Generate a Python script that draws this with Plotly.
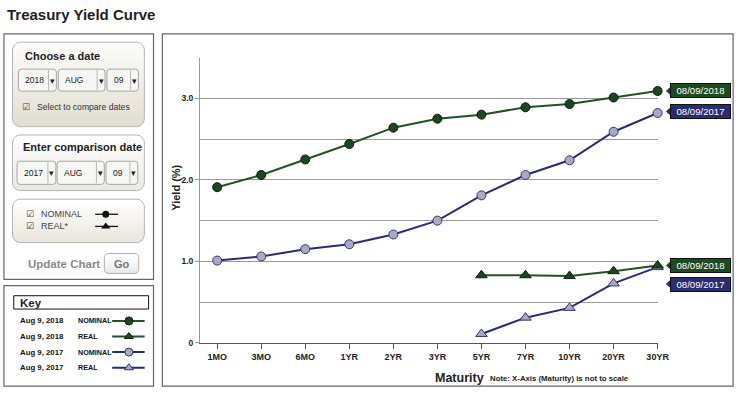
import plotly.graph_objects as go
import numpy as np

# ---------------- data ----------------
maturities = ["1MO", "3MO", "6MO", "1YR", "2YR", "3YR", "5YR", "7YR", "10YR", "20YR", "30YR"]
nominal_2018 = [1.91, 2.06, 2.25, 2.44, 2.64, 2.75, 2.80, 2.89, 2.93, 3.01, 3.09]
nominal_2017 = [1.01, 1.06, 1.15, 1.21, 1.33, 1.50, 1.81, 2.06, 2.24, 2.59, 2.82]
real_maturities = ["5YR", "7YR", "10YR", "20YR", "30YR"]
real_2018 = [0.83, 0.83, 0.82, 0.88, 0.95]
real_2017 = [0.11, 0.31, 0.43, 0.73, 0.93]
yield_ticks = [0, 1, 2, 3]
yield_tick_labels = ["0", "1.0", "2.0", "3.0"]
yield_minor = [0.5, 1.5, 2.5, 3.5]
key_rows = [("Aug 9, 2018", "NOMINAL"), ("Aug 9, 2018", "REAL"),
            ("Aug 9, 2017", "NOMINAL"), ("Aug 9, 2017", "REAL")]
tag_date_a = "08/09/2018"
tag_date_b = "08/09/2017"

# ---------------- style ----------------
W, H = 751, 397
FONT = "Liberation Sans, Arial, sans-serif"
GREEN_LINE = "#24502a"
GREEN_MARK = "#1c461f"
GREEN_EDGE = "#0c200e"
NAVY_LINE = "#2a2a7a"
NAVY_MARK = "#a9a9bf"
NAVY_EDGE = "#34347c"
TAG_GREEN = "#1e4a1f"
TAG_NAVY = "#2b2b6f"

PX_L, PX_R = 203.3, 668.3   # plot area pixels
PX_T, PX_B = 58.3, 347.3
X_RANGE = [-0.389, 10]
Y_RANGE = [0, 3.5]


def ypx(v):
    return PX_B - (v - Y_RANGE[0]) / (Y_RANGE[1] - Y_RANGE[0]) * (PX_B - PX_T)


def xpx(i):
    return PX_L + (i - X_RANGE[0]) / (X_RANGE[1] - X_RANGE[0]) * (PX_R - PX_L)


fig = go.Figure()

# ---------------- main data traces ----------------
idx = {m: i for i, m in enumerate(maturities)}
xi_all = [idx[m] for m in maturities]
xi_real = [idx[m] for m in real_maturities]


def series(x, y, lc, mc, ec, sym, size):
    fig.add_trace(go.Scatter(
        x=x, y=y, mode="lines+markers", xaxis="x", yaxis="y",
        line=dict(color=lc, width=2),
        marker=dict(symbol=sym, size=size, color=mc, line=dict(color=ec, width=1)),
        cliponaxis=False, showlegend=False, hoverinfo="skip"))


series(xi_real, real_2017, NAVY_LINE, NAVY_MARK, NAVY_EDGE, "triangle-up", 10)
series(xi_real, real_2018, GREEN_LINE, GREEN_MARK, GREEN_EDGE, "triangle-up", 10)
series(xi_all, nominal_2017, NAVY_LINE, NAVY_MARK, NAVY_EDGE, "circle", 9)
series(xi_all, nominal_2018, GREEN_LINE, GREEN_MARK, GREEN_EDGE, "circle", 9)

shapes = []
annotations = []


def text(x, y, t, size, color="#222", bold=False, anchor="left", family=FONT, angle=0):
    annotations.append(dict(
        x=x, y=y, xref="x2", yref="y2", text=("<b>%s</b>" % t) if bold else t,
        showarrow=False, xanchor=anchor, yanchor="middle", textangle=angle,
        font=dict(size=size, color=color, family=family)))


def rrect_path(x0, y0, x1, y1, r):
    return (f"M{x0 + r},{y0} L{x1 - r},{y0} Q{x1},{y0} {x1},{y0 + r} "
            f"L{x1},{y1 - r} Q{x1},{y1} {x1 - r},{y1} L{x0 + r},{y1} "
            f"Q{x0},{y1} {x0},{y1 - r} L{x0},{y0 + r} Q{x0},{y0} {x0 + r},{y0} Z")


def rrect_pts(x0, y0, x1, y1, r, n=8):
    xs, ys = [], []
    corners = [(x1 - r, y0 + r, -90, 0), (x1 - r, y1 - r, 0, 90),
               (x0 + r, y1 - r, 90, 180), (x0 + r, y0 + r, 180, 270)]
    for cx, cy, a0, a1 in corners:
        for a in np.linspace(np.radians(a0), np.radians(a1), n):
            xs.append(cx + r * np.cos(a))
            ys.append(cy + r * np.sin(a))
    xs.append(xs[0]); ys.append(ys[0])
    return xs, ys


def gradient_box(x0, y0, x1, y1, r, top, bottom, edge="#b4b4b4"):
    xs, ys = rrect_pts(x0, y0, x1, y1, r)
    fig.add_trace(go.Scatter(
        x=xs, y=ys, xaxis="x2", yaxis="y2", mode="lines", fill="toself",
        line=dict(color=edge, width=1),
        fillgradient=dict(type="vertical", colorscale=[[0, top], [1, bottom]],
                          start=y0, stop=y1),
        showlegend=False, hoverinfo="skip"))


def rect(x0, y0, x1, y1, color="#666", width=1.2, fill=None):
    shapes.append(dict(type="rect", xref="x2", yref="y2", x0=x0, y0=y0, x1=x1, y1=y1,
                       line=dict(color=color, width=width),
                       fillcolor=fill if fill else "rgba(0,0,0,0)", layer="above"))


def line(x0, y0, x1, y1, color, width=1):
    shapes.append(dict(type="line", xref="x2", yref="y2", x0=x0, y0=y0, x1=x1, y1=y1,
                       line=dict(color=color, width=width), layer="above"))


def dropdown(x0, y0, x1, y1, label):
    shapes.append(dict(type="path", xref="x2", yref="y2", path=rrect_path(x0, y0, x1, y1, 3),
                       line=dict(color="#a6a6a6", width=1), fillcolor="#f6f6f4", layer="above"))
    line(x1 - 8, y0 + 1, x1 - 8, y1 - 1, "#b8b8b8", 1)
    text(x0 + 5, (y0 + y1) / 2, label, 8.5, "#222")
    text(x1 - 4, (y0 + y1) / 2 + 0.5, "▾", 9, "#222", anchor="center",
         family="DejaVu Sans, sans-serif")


# ---------------- title ----------------
text(5, 15, "Treasury Yield Curve", 15, "#222", bold=True)

# ---------------- left control panel ----------------
rect(4, 34.3, 156, 283)
gradient_box(12.7, 42.7, 146.7, 128.3, 8, "#fdfdfb", "#e1dccf")
text(23, 57, "Choose a date", 11, "#222", bold=True)
dropdown(18.7, 70, 57.3, 92.3, "2018")
dropdown(59.3, 70, 106.7, 92.3, "AUG")
dropdown(108.7, 70, 140.7, 92.3, "09")
text(20, 108.7, "☑", 9, "#444", family="DejaVu Sans, sans-serif")
text(35.3, 108.7, "Select to compare dates", 8.6, "#333")

gradient_box(12.7, 136.7, 146.7, 193, 8, "#ffffff", "#e9e7e1")
text(21, 149.3, "Enter comparison date", 11, "#222", bold=True)
dropdown(17.3, 163.3, 56.7, 186.7, "2017")
dropdown(58, 163.3, 106, 186.7, "AUG")
dropdown(107.7, 163.3, 140, 186.7, "09")

gradient_box(12.7, 201.7, 146.7, 245.7, 8, "#ffffff", "#e6e2d8")
text(24, 217, "☑", 9, "#444", family="DejaVu Sans, sans-serif")
text(39.3, 217, "NOMINAL", 9, "#444")
text(24, 229.3, "☑", 9, "#444", family="DejaVu Sans, sans-serif")
text(39.3, 229.3, "REAL*", 9, "#444")
for yy, sym in [(217, "circle"), (229.3, "triangle-up")]:
    fig.add_trace(go.Scatter(x=[96.7, 120], y=[yy, yy], xaxis="x2", yaxis="y2", mode="lines",
                             line=dict(color="#111", width=1.3), showlegend=False, hoverinfo="skip"))
    fig.add_trace(go.Scatter(x=[107.5], y=[yy], xaxis="x2", yaxis="y2", mode="markers",
                             marker=dict(symbol=sym, size=7 if sym == "circle" else 8, color="#111"),
                             showlegend=False, hoverinfo="skip"))

text(26, 267, "Update Chart", 11.5, "#8a8a8a", bold=True)
gradient_box(106, 256.7, 141, 277, 4, "#ffffff", "#e2e2e2", edge="#b0b0b0")
text(123.5, 267, "Go", 11, "#777", bold=True, anchor="center")

# ---------------- key panel ----------------
rect(4, 289.3, 156, 391)
rect(14, 299.5, 151, 313, color="#111", width=1)
text(18, 306.5, "Key", 11.5, "#222", bold=True)
key_styles = [(GREEN_LINE, GREEN_MARK, GREEN_EDGE, "circle"),
              (GREEN_LINE, GREEN_MARK, GREEN_EDGE, "triangle-up"),
              (NAVY_LINE, NAVY_MARK, NAVY_EDGE, "circle"),
              (NAVY_LINE, NAVY_MARK, NAVY_EDGE, "triangle-up")]
for k, ((d, t), (lc, mc, ec, sym)) in enumerate(zip(key_rows, key_styles)):
    yy = 325 + k * 15.8
    text(18, yy, d, 7.8, "#111", bold=True)
    text(77, yy, t, 7.2, "#111", bold=True)
    fig.add_trace(go.Scatter(x=[114, 147], y=[yy, yy], xaxis="x2", yaxis="y2", mode="lines",
                             line=dict(color=lc, width=2), showlegend=False, hoverinfo="skip"))
    fig.add_trace(go.Scatter(x=[131], y=[yy], xaxis="x2", yaxis="y2", mode="markers",
                             marker=dict(symbol=sym, size=8, color=mc, line=dict(color=ec, width=1)),
                             showlegend=False, hoverinfo="skip"))

# ---------------- chart panel ----------------
rect(165, 34.3, 745, 391)
text(178, 190, "Yield (%)", 11, "#222", bold=True, anchor="center", angle=-90)
text(467, 382.5, "Maturity", 12.5, "#222", bold=True, anchor="center")
text(496, 383.5, "Note: X-Axis (Maturity) is not to scale", 7.8, "#222", bold=True)

# end-of-curve tags
last = len(maturities) - 1
tags = [(nominal_2018[-1], tag_date_a, TAG_GREEN, 0),
        (nominal_2017[-1], tag_date_b, TAG_NAVY, 1.5),
        (real_2018[-1], tag_date_a, TAG_GREEN, 0),
        (real_2017[-1], tag_date_b, TAG_NAVY, -17)]
for val, lbl, col, shift in tags:
    annotations.append(dict(
        x=last, y=val, xref="x", yref="y", text=lbl, showarrow=False,
        xanchor="left", yanchor="middle", xshift=12.4, yshift=shift,
        width=57, height=11, borderpad=1, borderwidth=1, bordercolor="#111",
        bgcolor=col, font=dict(size=9.6, color="#ffffff", family=FONT)))
    cy = ypx(val) - shift
    tip = xpx(last) + 8.4
    shapes.append(dict(type="path", xref="x2", yref="y2",
                       path=f"M{tip},{cy} L{tip + 4.5},{cy - 4} L{tip + 4.5},{cy + 4} Z",
                       fillcolor=col, line=dict(width=0), layer="above"))

fig.update_layout(
    width=W, height=H, margin=dict(l=0, r=0, t=0, b=0),
    paper_bgcolor="white", plot_bgcolor="rgba(0,0,0,0)",
    showlegend=False, shapes=shapes, annotations=annotations,
    font=dict(family=FONT, color="#222"),
    xaxis=dict(domain=[PX_L / W, PX_R / W], range=X_RANGE, anchor="y",
               tickvals=xi_all, ticktext=maturities, showgrid=False, zeroline=False,
               showline=True, linecolor="#555", linewidth=1,
               ticks="outside", ticklen=5, tickcolor="#555",
               tickfont=dict(size=9, family=FONT, color="#222", weight="bold"), fixedrange=True),
    yaxis=dict(domain=[(H - PX_B) / H, (H - PX_T) / H], range=Y_RANGE, anchor="x",
               tickvals=yield_ticks, ticktext=yield_tick_labels,
               showgrid=True, gridcolor="#9c9c9c", gridwidth=1, zeroline=False,
               showline=True, linecolor="#999", linewidth=1,
               ticks="outside", ticklen=4, tickcolor="#999",
               minor=dict(tickvals=yield_minor, showgrid=True, gridcolor="#9c9c9c", ticks=""),
               tickfont=dict(size=8.5, family=FONT, color="#222", weight="bold"), fixedrange=True),
    xaxis2=dict(domain=[0, 1], range=[0, W], anchor="y2", visible=False, fixedrange=True),
    yaxis2=dict(domain=[0, 1], range=[H, 0], anchor="x2", visible=False, fixedrange=True),
)

page_css = (
    "var de=document.documentElement, b=document.body;"
    "de.style.margin='0'; de.style.padding='0'; de.style.overflow='hidden';"
    "b.style.margin='0'; b.style.padding='0'; b.style.overflow='hidden';"
)
fig.write_html("out.html", config={"displayModeBar": False}, post_script=page_css)
